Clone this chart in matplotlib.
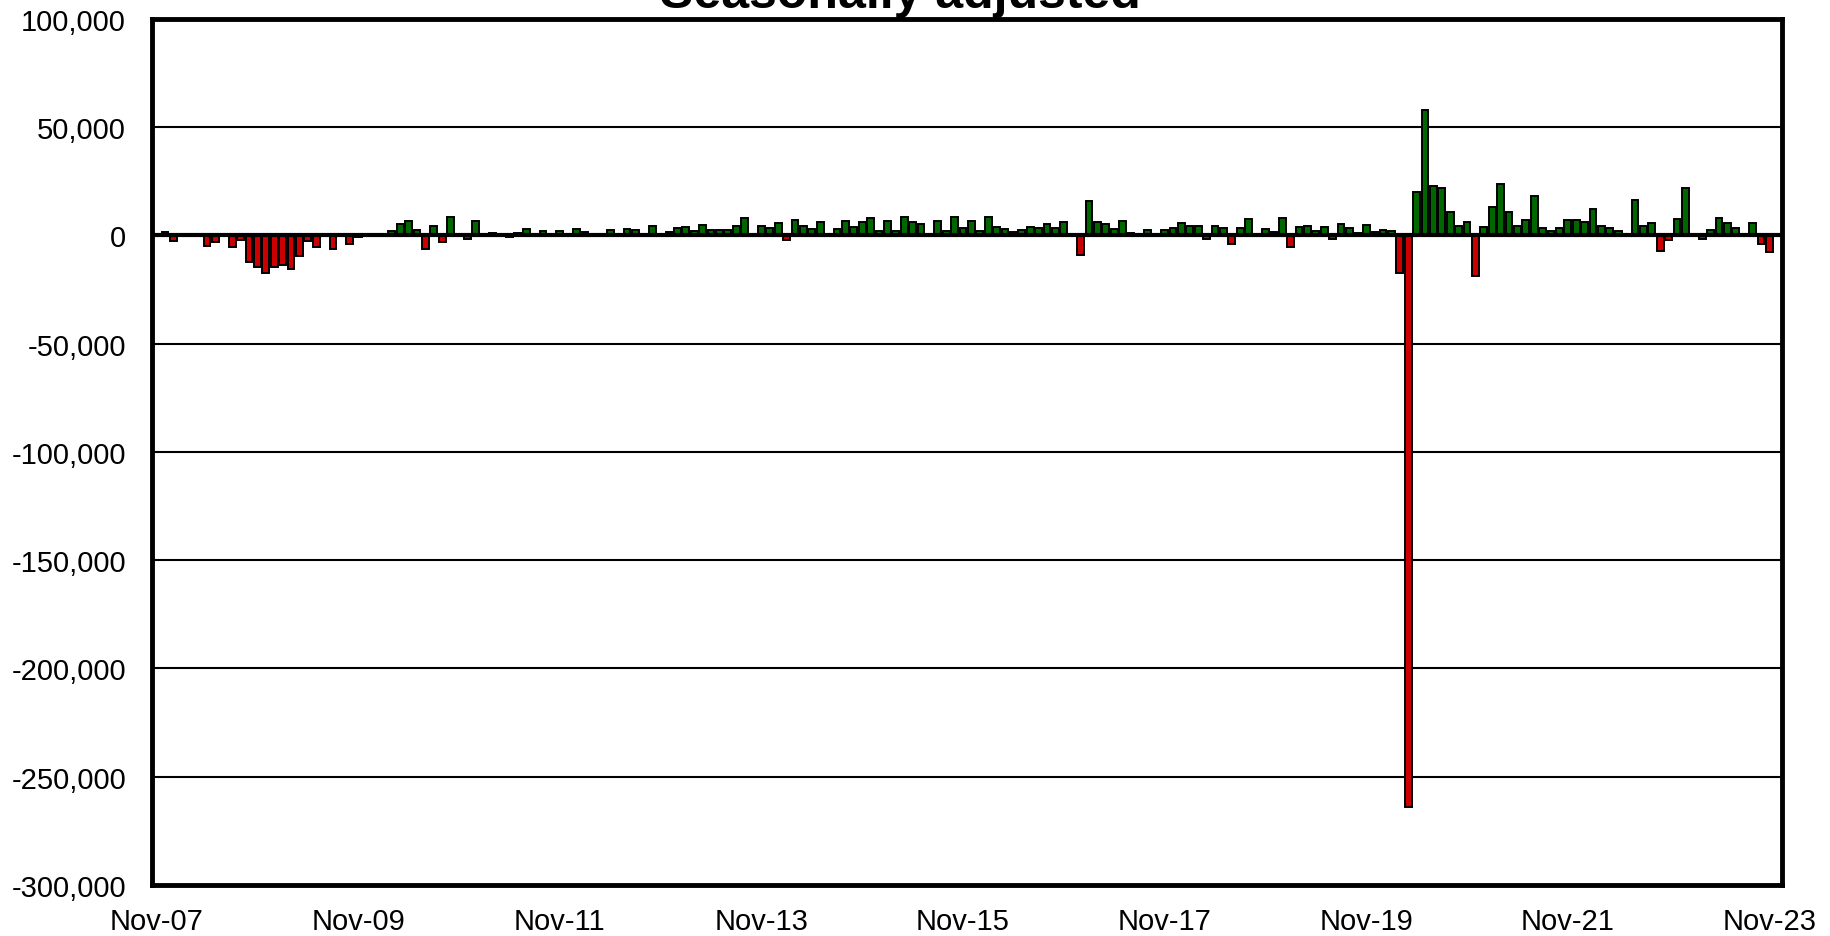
import matplotlib
matplotlib.use("Agg")
import matplotlib.pyplot as plt
import numpy as np

# Monthly change, Nov-07 .. Nov-23
changes = [
    500, 1500, -2500, 0, 0, -500, -4800, -3300, -500, -5300,
    -2200, -12500, -14800, -17300, -14800, -13800, -15800, -9500, -2500, -5300,
    -300, -6500, -500, -4200, -800, -500, 300, 0, 2000, 5000,
    6700, 2300, -6500, 4400, -3300, 8600, 0, -1500, 6700, 0,
    1200, 800, -1000, 1000, 3000, 300, 2200, 300, 2200, 500,
    3000, 1500, 800, 300, 2500, 500, 3000, 2600, 500, 4500,
    0, 1500, 3200, 4000, 1800, 4700, 2300, 2300, 2300, 4300,
    7900, 0, 4300, 3300, 5500, -2000, 7200, 4400, 2900, 6000,
    400, 3000, 6500, 4000, 6300, 7900, 1800, 6500, 1800, 8300,
    6300, 5300, 0, 6500, 2000, 8300, 3300, 6500, 2000, 8300,
    4000, 2800, 1500, 2300, 4000, 3500, 5000, 3500, 6000, -500,
    -9200, 16000, 6200, 5000, 2700, 6700, 1000, 800, 2300, 300,
    2300, 3500, 5500, 4500, 4500, -1500, 4500, 3300, -4200, 3300,
    7300, 500, 2900, 1500, 7900, -5300, 4000, 4500, 2000, 4000,
    -1500, 5000, 3200, 1000, 4700, 1500, 2500, 2000, -17300, -264000,
    19800, 57800, 22700, 21700, 10800, 4300, 6300, -18800, 3600, 13200,
    23500, 10900, 4300, 7000, 18300, 3500, 2000, 3200, 7000, 7000,
    6000, 12000, 4400, 3200, 2000, 300, 16500, 4400, 5800, -7100,
    -2000, 7500, 21700, 0, -1500, 2400, 8100, 5500, 3500, 0,
    5800, -4000, -7600,
]
tick_labels = ["Nov-07", "Nov-09", "Nov-11", "Nov-13", "Nov-15",
               "Nov-17", "Nov-19", "Nov-21", "Nov-23"]
y_ticks = [100000, 50000, 0, -50000, -100000, -150000, -200000, -250000, -300000]

plt.rcParams['font.family'] = ['Liberation Sans', 'DejaVu Sans']

values = np.array(changes, dtype=float)
x = np.arange(len(values))
colors = np.where(values >= 0, '#006600', '#cc0000')

fig = plt.figure(figsize=(18.3, 9.37), dpi=100)
ax = fig.add_axes([0.0833, 0.0546, 0.8905, 0.9243])

# gridlines
for yv in y_ticks[1:-1]:
    ax.axhline(yv, color='black', linewidth=1.5, zorder=1)

ax.bar(x, values, width=0.8, color=colors, edgecolor='black',
       linewidth=1.4, zorder=2)
ax.axhline(0, color='black', linewidth=3, zorder=3)

ax.set_xlim(-0.5, len(values) + 0.5)
ax.set_ylim(-300000, 100000)
ax.set_yticks(y_ticks)
ax.set_yticklabels([f"{v:,}" for v in y_ticks])
ax.set_xticks(np.arange(0, len(values), 24))
ax.set_xticklabels(tick_labels)
ax.tick_params(axis='both', length=0, labelsize=21)
ax.tick_params(axis='y', pad=19)
ax.tick_params(axis='x', pad=16)

for sp in ax.spines.values():
    sp.set_linewidth(3.5)
    sp.set_color('black')

fig.text(0.492, 0.991, "Seasonally adjusted", ha='center', va='baseline',
         fontsize=36, fontweight='bold')

fig.savefig("out.png", dpi=100)
